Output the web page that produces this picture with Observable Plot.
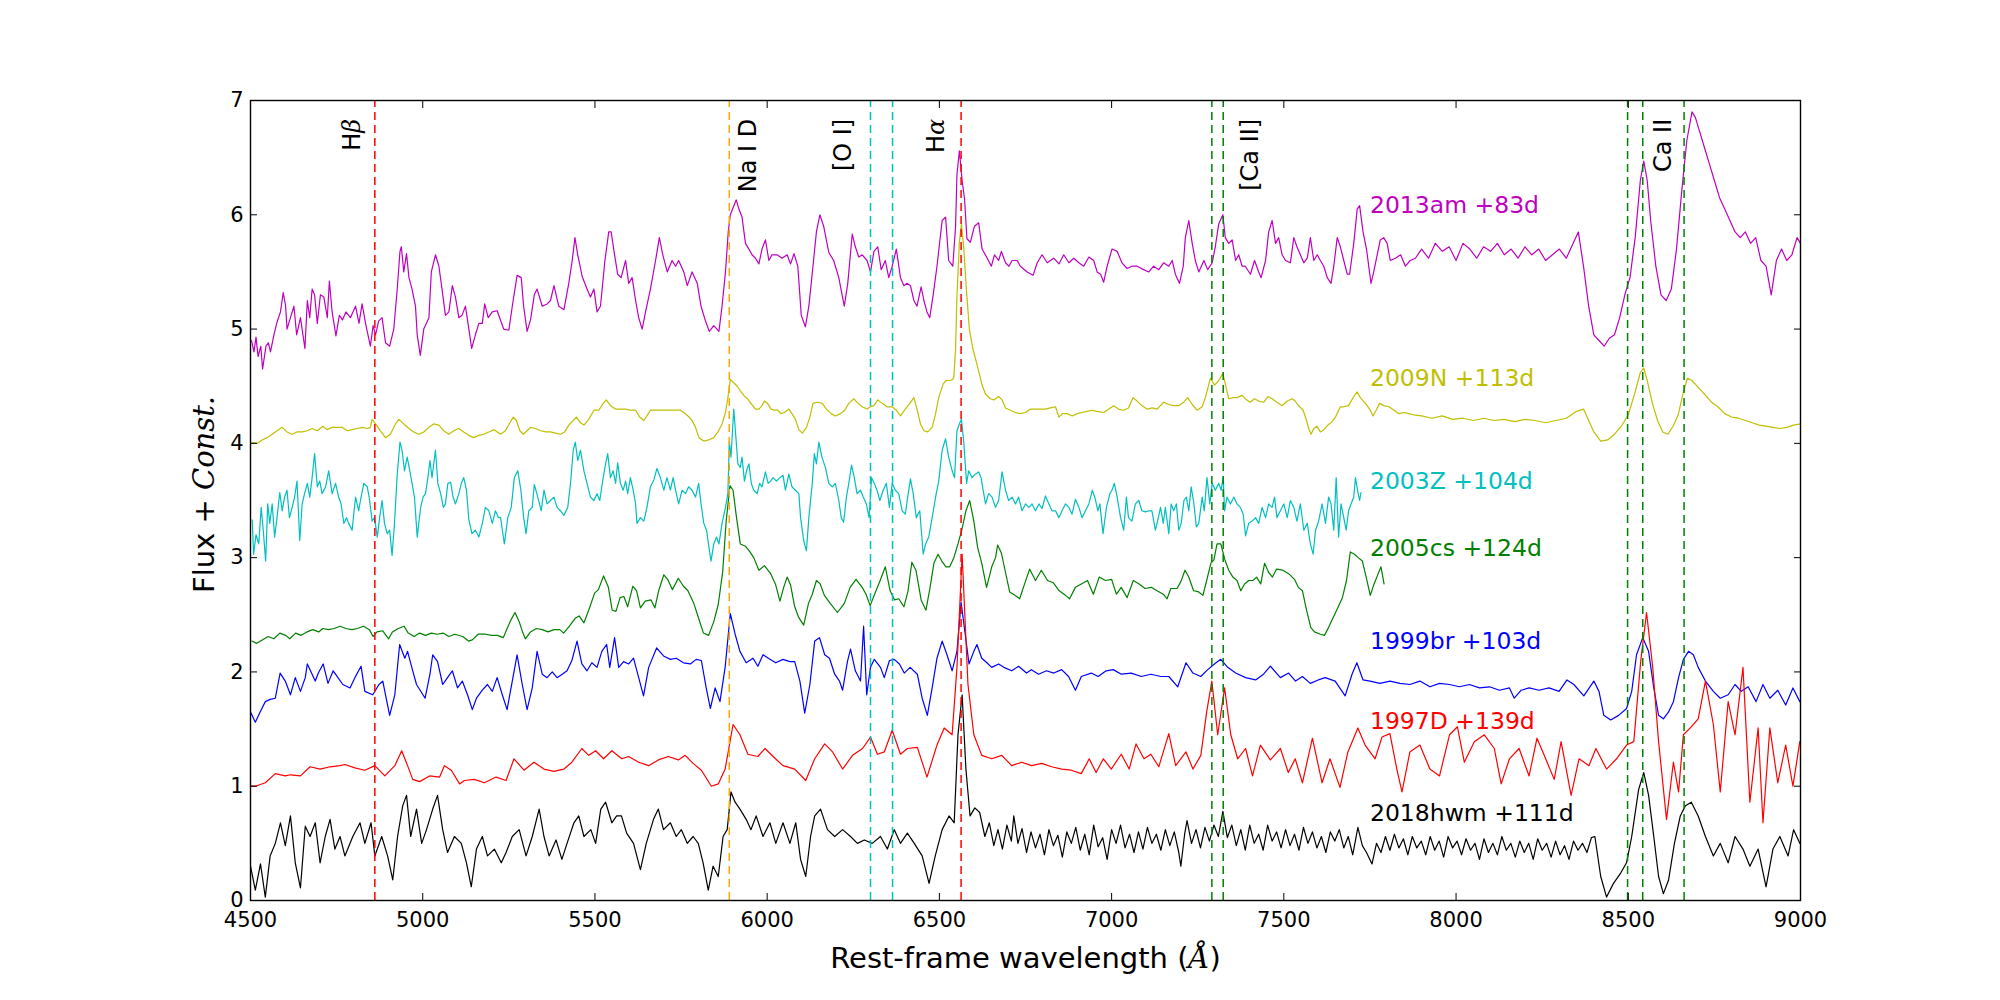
<!DOCTYPE html>
<html><head><meta charset="utf-8">
<script src="https://cdn.jsdelivr.net/npm/d3@7"></script>
<script src="https://cdn.jsdelivr.net/npm/@observablehq/plot@0.6"></script>
<style>body{margin:0;background:#fff;}</style>
</head><body><div id="chart"></div>
<script>
const xTicks = [4500,5000,5500,6000,6500,7000,7500,8000,8500,9000];
const yTicks = [0,1,2,3,4,5,6,7];

const sn2013am = [[4503,4.90],[4510,4.80],[4516,4.93],[4522,4.76],[4530,4.85],[4535,4.65],[4545,4.85],[4552,4.88],[4558,4.80],[4568,4.95],[4577,5.06],[4587,5.15],[4595,5.32],[4602,5.20],[4606,5.00],[4616,5.10],[4626,5.20],[4634,4.95],[4645,5.10],[4658,4.83],[4665,5.25],[4672,5.10],[4679,5.35],[4686,5.30],[4694,5.05],[4703,5.30],[4713,5.28],[4723,5.10],[4729,5.42],[4737,5.15],[4748,4.94],[4758,5.12],[4767,5.08],[4777,5.15],[4790,5.10],[4805,5.20],[4815,5.05],[4824,5.22],[4834,5.05],[4848,4.85],[4856,5.03],[4863,4.95],[4872,5.07],[4882,5.10],[4892,4.88],[4904,4.85],[4916,5.00],[4926,5.35],[4934,5.68],[4938,5.72],[4945,5.50],[4953,5.66],[4960,5.45],[4969,5.35],[4979,5.20],[4984,4.95],[4993,4.77],[5003,5.00],[5018,5.10],[5025,5.50],[5037,5.65],[5047,5.55],[5056,5.35],[5066,5.12],[5076,5.15],[5086,5.38],[5095,5.28],[5105,5.10],[5114,5.12],[5124,5.20],[5134,5.00],[5142,4.83],[5153,4.95],[5163,5.05],[5173,5.05],[5180,5.22],[5190,5.10],[5202,5.15],[5216,5.16],[5235,5.00],[5250,4.99],[5260,5.20],[5274,5.47],[5286,5.45],[5293,5.20],[5303,4.98],[5313,5.08],[5324,5.30],[5332,5.35],[5347,5.20],[5361,5.22],[5371,5.25],[5381,5.38],[5395,5.20],[5410,5.17],[5424,5.40],[5434,5.60],[5442,5.80],[5450,5.65],[5463,5.46],[5477,5.35],[5487,5.28],[5497,5.35],[5506,5.15],[5516,5.20],[5529,5.60],[5540,5.85],[5547,5.85],[5557,5.65],[5566,5.48],[5576,5.45],[5589,5.60],[5598,5.40],[5608,5.45],[5618,5.25],[5627,5.10],[5637,5.00],[5647,5.15],[5661,5.35],[5676,5.60],[5687,5.80],[5697,5.65],[5710,5.50],[5724,5.60],[5734,5.55],[5743,5.60],[5758,5.50],[5768,5.38],[5782,5.50],[5797,5.40],[5808,5.20],[5821,5.07],[5832,4.98],[5845,5.03],[5860,4.98],[5869,5.20],[5879,5.50],[5887,5.85],[5893,6.00],[5910,6.13],[5918,6.05],[5927,5.98],[5937,5.75],[5947,5.70],[5956,5.65],[5966,5.62],[5976,5.57],[5985,5.70],[5995,5.78],[6005,5.60],[6014,5.65],[6029,5.65],[6043,5.62],[6058,5.65],[6068,5.57],[6078,5.66],[6089,5.55],[6099,5.12],[6111,5.02],[6121,5.20],[6133,5.55],[6143,5.85],[6153,6.00],[6164,5.90],[6179,5.67],[6193,5.60],[6208,5.45],[6218,5.29],[6224,5.20],[6234,5.40],[6247,5.83],[6256,5.72],[6266,5.63],[6276,5.65],[6290,5.60],[6300,5.50],[6310,5.68],[6321,5.72],[6331,5.52],[6343,5.60],[6353,5.45],[6363,5.55],[6375,5.70],[6387,5.45],[6397,5.38],[6406,5.40],[6416,5.38],[6426,5.25],[6435,5.20],[6447,5.37],[6455,5.25],[6464,5.15],[6472,5.10],[6482,5.30],[6493,5.55],[6508,5.95],[6518,5.98],[6527,5.60],[6539,5.55],[6547,5.90],[6551,6.35],[6558,6.56],[6566,6.30],[6573,6.14],[6580,5.79],[6590,5.76],[6602,5.90],[6614,5.93],[6624,5.70],[6639,5.62],[6651,5.55],[6660,5.65],[6672,5.60],[6680,5.68],[6692,5.58],[6702,5.55],[6711,5.60],[6726,5.60],[6735,5.55],[6755,5.50],[6772,5.47],[6784,5.58],[6798,5.65],[6813,5.58],[6832,5.62],[6847,5.57],[6861,5.65],[6876,5.58],[6890,5.62],[6905,5.58],[6919,5.55],[6934,5.63],[6948,5.60],[6958,5.50],[6968,5.48],[6977,5.41],[6987,5.55],[7001,5.70],[7016,5.68],[7030,5.58],[7045,5.53],[7059,5.55],[7074,5.55],[7093,5.52],[7108,5.50],[7122,5.55],[7137,5.52],[7151,5.58],[7166,5.55],[7176,5.60],[7185,5.48],[7197,5.40],[7208,5.55],[7214,5.80],[7224,5.95],[7234,5.75],[7243,5.60],[7253,5.50],[7268,5.60],[7279,5.52],[7292,5.58],[7301,5.72],[7311,5.92],[7323,6.00],[7330,5.80],[7340,5.75],[7350,5.78],[7360,5.60],[7369,5.65],[7379,5.55],[7388,5.55],[7403,5.48],[7415,5.60],[7427,5.50],[7434,5.45],[7447,5.60],[7456,5.85],[7466,5.95],[7476,5.75],[7485,5.80],[7495,5.65],[7505,5.60],[7519,5.58],[7529,5.80],[7538,5.72],[7548,5.65],[7558,5.58],[7568,5.62],[7577,5.80],[7587,5.60],[7597,5.65],[7606,5.60],[7616,5.55],[7626,5.45],[7637,5.40],[7645,5.55],[7655,5.80],[7664,5.72],[7674,5.60],[7684,5.48],[7691,5.48],[7703,5.75],[7713,6.05],[7720,6.08],[7730,5.85],[7740,5.70],[7753,5.40],[7761,5.50],[7771,5.65],[7780,5.78],[7790,5.80],[7800,5.75],[7809,5.60],[7824,5.62],[7839,5.65],[7853,5.55],[7867,5.60],[7882,5.62],[7900,5.70],[7920,5.62],[7940,5.75],[7960,5.68],[7980,5.72],[8000,5.60],[8020,5.75],[8040,5.70],[8060,5.62],[8080,5.72],[8100,5.68],[8120,5.75],[8140,5.65],[8160,5.70],[8180,5.62],[8200,5.72],[8220,5.65],[8240,5.70],[8260,5.60],[8280,5.65],[8300,5.70],[8320,5.62],[8340,5.75],[8355,5.85],[8370,5.55],[8385,5.20],[8400,4.95],[8415,4.90],[8430,4.85],[8445,4.92],[8460,4.95],[8475,5.10],[8490,5.30],[8505,5.45],[8520,5.80],[8535,6.30],[8545,6.47],[8555,6.30],[8565,5.95],[8580,5.55],[8595,5.30],[8610,5.25],[8625,5.35],[8640,5.70],[8655,6.20],[8670,6.65],[8685,6.90],[8695,6.85],[8705,6.75],[8720,6.60],[8735,6.45],[8750,6.30],[8765,6.15],[8780,6.05],[8795,5.95],[8810,5.85],[8825,5.80],[8840,5.85],[8855,5.75],[8870,5.80],[8885,5.60],[8900,5.55],[8915,5.30],[8930,5.60],[8945,5.70],[8960,5.60],[8975,5.65],[8990,5.80],[9000,5.75]];

const sn2009N = [[4505,4.01],[4520,4.00],[4534,4.03],[4548,4.05],[4563,4.08],[4577,4.11],[4592,4.14],[4606,4.10],[4621,4.08],[4635,4.10],[4650,4.10],[4665,4.11],[4679,4.13],[4694,4.11],[4710,4.15],[4722,4.12],[4737,4.14],[4752,4.14],[4766,4.14],[4781,4.11],[4795,4.12],[4810,4.13],[4824,4.14],[4839,4.13],[4848,4.14],[4853,4.21],[4863,4.17],[4877,4.11],[4892,4.05],[4906,4.08],[4921,4.17],[4931,4.21],[4945,4.17],[4960,4.13],[4974,4.10],[4989,4.08],[5003,4.10],[5018,4.14],[5032,4.17],[5047,4.16],[5061,4.11],[5076,4.08],[5090,4.11],[5105,4.13],[5119,4.10],[5134,4.07],[5148,4.05],[5163,4.07],[5177,4.08],[5192,4.10],[5207,4.12],[5226,4.08],[5240,4.11],[5253,4.18],[5263,4.23],[5272,4.20],[5282,4.11],[5292,4.08],[5303,4.11],[5313,4.14],[5328,4.13],[5342,4.11],[5357,4.10],[5371,4.10],[5385,4.09],[5400,4.08],[5412,4.10],[5424,4.16],[5437,4.20],[5446,4.23],[5458,4.18],[5468,4.16],[5482,4.21],[5497,4.29],[5511,4.29],[5524,4.35],[5533,4.38],[5545,4.33],[5560,4.30],[5574,4.30],[5589,4.30],[5603,4.29],[5618,4.29],[5630,4.23],[5642,4.20],[5651,4.24],[5661,4.29],[5676,4.29],[5690,4.29],[5705,4.29],[5719,4.29],[5734,4.29],[5748,4.29],[5758,4.27],[5770,4.24],[5782,4.20],[5792,4.14],[5802,4.05],[5816,4.02],[5830,4.03],[5845,4.05],[5857,4.10],[5869,4.17],[5879,4.27],[5886,4.40],[5893,4.56],[5903,4.53],[5913,4.50],[5922,4.46],[5932,4.42],[5943,4.39],[5953,4.35],[5966,4.30],[5976,4.30],[5985,4.33],[5992,4.37],[6001,4.35],[6011,4.30],[6021,4.29],[6031,4.29],[6040,4.26],[6050,4.27],[6063,4.30],[6072,4.26],[6082,4.21],[6092,4.12],[6102,4.09],[6114,4.14],[6124,4.23],[6133,4.35],[6145,4.36],[6160,4.35],[6172,4.30],[6186,4.26],[6198,4.24],[6213,4.26],[6225,4.29],[6237,4.35],[6252,4.39],[6264,4.35],[6276,4.32],[6290,4.30],[6300,4.32],[6310,4.33],[6321,4.38],[6334,4.35],[6348,4.32],[6363,4.32],[6375,4.29],[6387,4.24],[6401,4.30],[6414,4.35],[6426,4.40],[6435,4.30],[6445,4.17],[6455,4.11],[6466,4.10],[6479,4.14],[6489,4.26],[6498,4.40],[6511,4.52],[6520,4.55],[6532,4.55],[6539,4.56],[6542,4.58],[6547,4.83],[6551,5.29],[6558,5.76],[6564,5.92],[6571,5.70],[6579,5.32],[6587,5.00],[6597,4.83],[6610,4.68],[6624,4.51],[6634,4.43],[6648,4.39],[6658,4.38],[6672,4.41],[6682,4.38],[6692,4.31],[6706,4.29],[6721,4.27],[6735,4.26],[6750,4.27],[6764,4.30],[6779,4.30],[6793,4.30],[6808,4.30],[6822,4.31],[6837,4.32],[6847,4.23],[6857,4.26],[6871,4.26],[6886,4.24],[6900,4.26],[6914,4.27],[6929,4.28],[6943,4.29],[6958,4.28],[6977,4.27],[6992,4.30],[7006,4.33],[7020,4.30],[7035,4.29],[7049,4.31],[7062,4.40],[7074,4.37],[7088,4.33],[7103,4.30],[7118,4.31],[7132,4.30],[7151,4.36],[7166,4.34],[7180,4.33],[7195,4.33],[7209,4.36],[7221,4.40],[7234,4.34],[7248,4.29],[7263,4.32],[7272,4.40],[7287,4.57],[7299,4.51],[7311,4.55],[7323,4.61],[7330,4.52],[7340,4.39],[7352,4.40],[7364,4.40],[7379,4.42],[7388,4.39],[7402,4.36],[7415,4.39],[7427,4.37],[7442,4.36],[7454,4.41],[7466,4.39],[7480,4.36],[7495,4.33],[7510,4.37],[7524,4.39],[7533,4.37],[7543,4.33],[7556,4.29],[7566,4.20],[7572,4.13],[7579,4.08],[7587,4.13],[7596,4.15],[7606,4.10],[7616,4.12],[7628,4.16],[7640,4.19],[7650,4.23],[7664,4.32],[7674,4.32],[7688,4.33],[7703,4.41],[7713,4.45],[7722,4.40],[7737,4.35],[7751,4.29],[7759,4.24],[7768,4.29],[7778,4.35],[7790,4.33],[7805,4.32],[7820,4.29],[7834,4.26],[7849,4.27],[7863,4.26],[7877,4.25],[7900,4.24],[7930,4.22],[7960,4.24],[7990,4.21],[8020,4.22],[8050,4.20],[8080,4.22],[8110,4.20],[8140,4.21],[8170,4.19],[8200,4.21],[8230,4.20],[8260,4.18],[8290,4.20],[8320,4.22],[8350,4.28],[8370,4.30],[8385,4.20],[8400,4.10],[8420,4.02],[8440,4.03],[8460,4.08],[8480,4.15],[8500,4.25],[8520,4.45],[8535,4.62],[8545,4.66],[8555,4.55],[8570,4.35],[8585,4.20],[8600,4.10],[8615,4.08],[8630,4.15],[8645,4.25],[8660,4.45],[8672,4.57],[8685,4.55],[8700,4.50],[8715,4.45],[8730,4.40],[8745,4.35],[8760,4.32],[8780,4.26],[8800,4.23],[8820,4.22],[8840,4.20],[8860,4.18],[8880,4.16],[8900,4.15],[8920,4.14],[8940,4.13],[8960,4.14],[8980,4.16],[9000,4.17]];

const sn2003Z = [[4505,3.33],[4509,3.03],[4516,3.20],[4524,3.12],[4531,3.44],[4537,3.24],[4544,2.97],[4550,3.47],[4556,3.30],[4563,3.47],[4570,3.18],[4577,3.35],[4585,3.57],[4592,3.41],[4599,3.53],[4606,3.59],[4613,3.35],[4621,3.44],[4628,3.53],[4635,3.67],[4643,3.15],[4650,3.47],[4657,3.56],[4665,3.65],[4672,3.53],[4679,3.70],[4686,3.91],[4694,3.62],[4701,3.67],[4708,3.56],[4718,3.62],[4727,3.76],[4737,3.56],[4747,3.65],[4756,3.53],[4763,3.47],[4771,3.30],[4779,3.35],[4785,3.30],[4795,3.24],[4805,3.53],[4814,3.41],[4821,3.53],[4829,3.65],[4839,3.62],[4846,3.50],[4853,3.32],[4860,3.35],[4868,3.18],[4875,3.35],[4882,3.50],[4889,3.30],[4897,3.21],[4904,3.24],[4911,3.02],[4918,3.30],[4926,3.73],[4934,4.01],[4940,3.94],[4947,3.76],[4955,3.88],[4963,3.75],[4969,3.65],[4976,3.53],[4984,3.18],[4994,3.44],[5001,3.53],[5008,3.56],[5015,3.70],[5021,3.85],[5027,3.70],[5037,3.94],[5044,3.65],[5052,3.56],[5060,3.44],[5066,3.47],[5073,3.65],[5081,3.66],[5088,3.53],[5095,3.47],[5105,3.56],[5112,3.65],[5119,3.70],[5127,3.59],[5134,3.33],[5143,3.21],[5153,3.24],[5163,3.18],[5173,3.30],[5182,3.44],[5192,3.41],[5202,3.30],[5211,3.41],[5220,3.35],[5226,3.35],[5237,3.12],[5247,3.35],[5257,3.44],[5266,3.70],[5276,3.76],[5285,3.59],[5293,3.35],[5300,3.21],[5308,3.41],[5318,3.44],[5324,3.64],[5334,3.53],[5344,3.41],[5352,3.59],[5361,3.47],[5371,3.50],[5381,3.53],[5390,3.44],[5400,3.41],[5410,3.37],[5421,3.44],[5429,3.65],[5437,3.94],[5443,4.01],[5450,3.85],[5458,3.94],[5468,3.76],[5477,3.65],[5487,3.53],[5497,3.50],[5506,3.56],[5514,3.50],[5524,3.70],[5531,3.82],[5537,3.91],[5545,3.70],[5553,3.76],[5560,3.65],[5566,3.83],[5574,3.65],[5582,3.59],[5589,3.67],[5595,3.56],[5603,3.70],[5611,3.59],[5618,3.47],[5622,3.30],[5632,3.35],[5642,3.32],[5651,3.44],[5661,3.62],[5671,3.68],[5680,3.78],[5690,3.70],[5700,3.59],[5709,3.70],[5719,3.59],[5727,3.70],[5734,3.59],[5743,3.47],[5753,3.59],[5763,3.56],[5772,3.62],[5782,3.59],[5792,3.53],[5801,3.65],[5808,3.47],[5816,3.30],[5824,3.24],[5831,3.09],[5837,2.97],[5845,3.12],[5853,3.18],[5860,3.12],[5869,3.30],[5879,3.44],[5886,3.56],[5890,4.02],[5895,3.88],[5903,4.30],[5910,4.02],[5915,3.82],[5922,3.79],[5927,3.88],[5934,3.67],[5940,3.76],[5947,3.82],[5954,3.65],[5961,3.59],[5971,3.56],[5978,3.65],[5985,3.62],[5995,3.75],[6003,3.65],[6010,3.67],[6017,3.70],[6027,3.67],[6037,3.70],[6046,3.72],[6053,3.59],[6063,3.73],[6072,3.62],[6082,3.59],[6092,3.56],[6097,3.35],[6106,3.15],[6114,3.06],[6121,3.35],[6131,3.65],[6137,3.91],[6143,3.82],[6150,4.01],[6159,3.88],[6169,3.79],[6179,3.65],[6189,3.62],[6198,3.65],[6208,3.50],[6215,3.35],[6222,3.31],[6230,3.53],[6237,3.65],[6245,3.81],[6253,3.70],[6261,3.56],[6271,3.59],[6279,3.53],[6288,3.47],[6296,3.35],[6303,3.70],[6311,3.65],[6319,3.59],[6327,3.50],[6337,3.59],[6346,3.65],[6355,3.44],[6363,3.65],[6372,3.59],[6382,3.56],[6392,3.41],[6401,3.38],[6408,3.53],[6416,3.69],[6424,3.56],[6433,3.35],[6443,3.41],[6453,3.03],[6460,3.12],[6469,3.18],[6479,3.35],[6489,3.53],[6498,3.67],[6508,3.94],[6518,4.04],[6527,3.88],[6537,3.76],[6544,3.70],[6551,4.11],[6558,4.17],[6564,4.21],[6571,4.00],[6579,3.65],[6585,3.76],[6595,3.70],[6604,3.73],[6614,3.75],[6621,3.70],[6627,3.59],[6634,3.47],[6643,3.56],[6653,3.53],[6663,3.44],[6672,3.50],[6682,3.75],[6692,3.59],[6701,3.50],[6711,3.53],[6721,3.47],[6730,3.53],[6740,3.41],[6750,3.47],[6760,3.44],[6769,3.47],[6779,3.41],[6789,3.47],[6798,3.43],[6808,3.54],[6818,3.47],[6827,3.41],[6837,3.41],[6847,3.35],[6856,3.41],[6866,3.47],[6876,3.44],[6885,3.38],[6895,3.51],[6905,3.44],[6914,3.35],[6924,3.41],[6934,3.47],[6944,3.59],[6952,3.52],[6960,3.41],[6966,3.47],[6975,3.21],[6985,3.44],[6995,3.56],[7001,3.59],[7008,3.65],[7016,3.53],[7026,3.35],[7035,3.24],[7043,3.53],[7049,3.35],[7059,3.32],[7069,3.47],[7079,3.50],[7088,3.41],[7098,3.40],[7108,3.41],[7117,3.41],[7127,3.24],[7132,3.30],[7142,3.44],[7150,3.30],[7156,3.44],[7166,3.21],[7173,3.47],[7180,3.41],[7188,3.47],[7195,3.24],[7202,3.30],[7210,3.50],[7217,3.53],[7224,3.41],[7231,3.62],[7239,3.47],[7246,3.27],[7253,3.30],[7263,3.53],[7269,3.41],[7277,3.70],[7285,3.47],[7292,3.65],[7301,3.59],[7311,3.65],[7318,3.59],[7324,3.70],[7328,3.41],[7335,3.53],[7345,3.47],[7355,3.53],[7364,3.47],[7374,3.44],[7382,3.38],[7389,3.19],[7398,3.30],[7408,3.32],[7418,3.35],[7427,3.30],[7437,3.44],[7447,3.35],[7456,3.47],[7466,3.44],[7473,3.53],[7480,3.35],[7490,3.41],[7500,3.47],[7510,3.35],[7519,3.50],[7529,3.44],[7538,3.32],[7548,3.47],[7558,3.24],[7568,3.30],[7577,3.12],[7585,3.03],[7592,3.24],[7601,3.32],[7611,3.47],[7621,3.30],[7630,3.53],[7637,3.47],[7645,3.24],[7652,3.70],[7659,3.18],[7666,3.47],[7674,3.35],[7681,3.24],[7688,3.41],[7695,3.47],[7703,3.53],[7708,3.70],[7714,3.59],[7720,3.50],[7724,3.57]];

const sn2005cs = [[4504,2.27],[4518,2.25],[4534,2.28],[4551,2.31],[4568,2.29],[4585,2.34],[4602,2.32],[4614,2.29],[4631,2.34],[4647,2.32],[4664,2.35],[4681,2.37],[4698,2.35],[4710,2.38],[4726,2.37],[4743,2.38],[4760,2.40],[4777,2.38],[4794,2.37],[4811,2.38],[4828,2.40],[4845,2.37],[4856,2.31],[4867,2.35],[4884,2.36],[4901,2.29],[4912,2.35],[4929,2.38],[4946,2.40],[4958,2.34],[4975,2.31],[4991,2.34],[5008,2.32],[5025,2.34],[5042,2.33],[5059,2.34],[5076,2.31],[5093,2.33],[5116,2.31],[5133,2.27],[5144,2.28],[5161,2.33],[5183,2.33],[5200,2.32],[5217,2.32],[5234,2.30],[5245,2.38],[5257,2.46],[5268,2.52],[5280,2.44],[5291,2.34],[5298,2.29],[5313,2.35],[5330,2.38],[5347,2.37],[5364,2.35],[5381,2.37],[5398,2.37],[5409,2.34],[5426,2.40],[5443,2.47],[5454,2.49],[5468,2.43],[5482,2.54],[5499,2.69],[5510,2.72],[5525,2.84],[5539,2.74],[5550,2.54],[5561,2.53],[5573,2.65],[5584,2.66],[5595,2.57],[5610,2.75],[5621,2.71],[5632,2.56],[5646,2.62],[5663,2.63],[5674,2.56],[5685,2.71],[5700,2.85],[5711,2.81],[5725,2.72],[5742,2.82],[5757,2.75],[5770,2.71],[5787,2.60],[5801,2.47],[5815,2.34],[5830,2.32],[5845,2.44],[5858,2.59],[5871,2.88],[5881,3.32],[5892,3.63],[5901,3.59],[5911,3.35],[5922,3.12],[5937,3.10],[5950,3.05],[5961,3.00],[5976,2.89],[5992,2.93],[6010,2.86],[6024,2.77],[6037,2.62],[6048,2.74],[6058,2.83],[6068,2.76],[6080,2.57],[6091,2.48],[6106,2.41],[6120,2.60],[6131,2.68],[6143,2.80],[6154,2.77],[6166,2.67],[6183,2.60],[6204,2.52],[6224,2.60],[6241,2.74],[6258,2.81],[6276,2.74],[6287,2.68],[6299,2.58],[6316,2.71],[6328,2.80],[6343,2.92],[6357,2.71],[6370,2.63],[6382,2.64],[6397,2.57],[6409,2.71],[6420,2.96],[6432,2.89],[6447,2.63],[6461,2.54],[6473,2.74],[6484,2.95],[6496,3.03],[6507,2.97],[6519,2.92],[6530,2.92],[6542,3.00],[6554,3.12],[6565,3.24],[6577,3.41],[6588,3.50],[6600,3.32],[6611,3.09],[6623,2.95],[6637,2.74],[6652,2.92],[6663,3.00],[6669,3.11],[6680,3.04],[6692,2.87],[6704,2.70],[6715,2.68],[6733,2.64],[6744,2.74],[6762,2.90],[6779,2.80],[6796,2.89],[6814,2.80],[6831,2.78],[6848,2.71],[6866,2.67],[6878,2.64],[6895,2.74],[6912,2.77],[6930,2.80],[6947,2.68],[6964,2.83],[6982,2.80],[7000,2.81],[7014,2.68],[7028,2.74],[7045,2.65],[7063,2.80],[7080,2.77],[7097,2.73],[7115,2.74],[7132,2.71],[7150,2.68],[7161,2.64],[7172,2.73],[7190,2.73],[7201,2.79],[7213,2.89],[7224,2.83],[7238,2.71],[7253,2.70],[7265,2.67],[7276,2.80],[7288,2.95],[7297,2.98],[7306,3.12],[7317,3.12],[7329,2.98],[7340,2.89],[7352,2.83],[7364,2.80],[7375,2.71],[7386,2.77],[7398,2.80],[7410,2.80],[7421,2.83],[7433,2.77],[7444,2.95],[7456,2.87],[7467,2.83],[7479,2.90],[7497,2.89],[7514,2.86],[7531,2.81],[7542,2.74],[7554,2.71],[7566,2.54],[7578,2.39],[7589,2.35],[7606,2.33],[7618,2.32],[7630,2.39],[7641,2.46],[7655,2.55],[7670,2.65],[7682,2.80],[7693,3.05],[7705,3.03],[7716,3.00],[7728,2.97],[7739,2.83],[7751,2.67],[7762,2.77],[7774,2.86],[7782,2.92],[7791,2.77]];

const sn1999br = [[4500,1.65],[4514,1.56],[4528,1.65],[4543,1.74],[4557,1.76],[4572,1.77],[4586,1.99],[4601,1.92],[4616,1.80],[4630,1.95],[4645,1.83],[4659,1.95],[4665,2.07],[4688,1.92],[4697,1.99],[4711,2.07],[4725,1.90],[4740,2.01],[4754,1.95],[4768,1.89],[4789,1.86],[4803,1.95],[4821,2.05],[4832,1.83],[4855,1.80],[4873,1.89],[4884,1.92],[4904,1.62],[4919,1.80],[4933,2.24],[4948,2.12],[4956,2.18],[4971,2.01],[4982,1.89],[5007,1.77],[5021,1.98],[5029,2.15],[5043,2.09],[5058,1.89],[5072,1.95],[5086,2.01],[5101,1.86],[5115,1.92],[5130,1.80],[5144,1.67],[5156,1.77],[5173,1.84],[5188,1.89],[5202,1.83],[5216,1.95],[5231,1.80],[5245,1.67],[5260,1.92],[5274,2.15],[5289,1.89],[5303,1.67],[5318,1.86],[5332,2.18],[5347,1.98],[5361,1.95],[5376,2.00],[5390,1.95],[5405,1.98],[5419,2.01],[5433,2.10],[5448,2.27],[5462,2.07],[5477,2.01],[5491,2.08],[5506,2.04],[5520,2.18],[5534,2.24],[5543,2.04],[5557,2.30],[5569,2.04],[5583,2.09],[5598,2.07],[5612,2.12],[5627,1.95],[5641,1.79],[5656,2.04],[5679,2.21],[5699,2.14],[5719,2.11],[5736,2.12],[5757,2.08],[5777,2.07],[5794,2.11],[5809,2.10],[5823,1.86],[5835,1.68],[5849,1.86],[5863,1.74],[5878,2.04],[5893,2.51],[5907,2.33],[5921,2.18],[5939,2.08],[5959,2.12],[5973,2.05],[5988,2.15],[6008,2.11],[6025,2.08],[6046,2.11],[6066,2.09],[6080,2.09],[6095,1.92],[6109,1.64],[6124,1.89],[6138,2.27],[6152,2.30],[6167,2.15],[6181,2.12],[6196,1.98],[6210,1.92],[6219,1.84],[6233,2.09],[6242,2.20],[6256,2.01],[6271,1.92],[6280,2.40],[6289,1.80],[6300,2.04],[6311,2.11],[6329,2.04],[6340,1.95],[6355,2.10],[6369,2.11],[6384,2.07],[6398,1.99],[6415,2.04],[6436,1.98],[6450,1.77],[6465,1.62],[6479,1.86],[6493,2.12],[6508,2.27],[6522,2.15],[6537,2.01],[6551,2.18],[6563,2.61],[6575,2.33],[6586,2.07],[6600,2.18],[6609,2.24],[6623,2.12],[6638,2.08],[6652,2.04],[6672,2.07],[6687,2.04],[6710,2.01],[6730,2.05],[6753,1.99],[6767,2.02],[6788,1.98],[6811,2.01],[6832,1.99],[6855,2.02],[6875,1.96],[6895,1.84],[6912,1.96],[6941,1.99],[6961,1.96],[6984,2.01],[7005,2.02],[7028,1.98],[7057,1.99],[7086,1.96],[7114,1.98],[7143,1.96],[7166,1.96],[7192,1.87],[7216,2.08],[7236,1.99],[7259,1.96],[7279,2.02],[7303,2.08],[7317,2.11],[7337,2.04],[7360,1.99],[7389,1.95],[7418,1.93],[7441,1.98],[7461,2.05],[7490,1.95],[7514,1.99],[7534,1.92],[7554,1.96],[7577,1.90],[7600,1.93],[7620,1.95],[7649,1.92],[7678,1.79],[7698,1.98],[7712,2.08],[7730,1.93],[7750,1.92],[7779,1.90],[7808,1.92],[7837,1.90],[7866,1.89],[7895,1.92],[7924,1.87],[7952,1.90],[7981,1.89],[8010,1.87],[8039,1.89],[8068,1.86],[8097,1.87],[8126,1.84],[8155,1.86],[8169,1.77],[8189,1.84],[8212,1.86],[8241,1.84],[8270,1.86],[8299,1.83],[8322,1.93],[8342,1.89],[8371,1.79],[8400,1.92],[8415,1.83],[8429,1.62],[8449,1.58],[8472,1.62],[8495,1.68],[8510,1.83],[8524,2.15],[8542,2.30],[8559,2.18],[8574,1.86],[8588,1.62],[8602,1.59],[8617,1.65],[8631,1.74],[8646,1.95],[8660,2.11],[8675,2.18],[8689,2.15],[8703,2.04],[8724,1.92],[8747,1.83],[8767,1.77],[8790,1.80],[8810,1.89],[8828,1.83],[8848,1.87],[8871,1.74],[8891,1.89],[8911,1.77],[8934,1.84],[8957,1.71],[8978,1.86],[8998,1.74]];

const sn1997D = [[4500,1.00],[4514,1.00],[4543,1.03],[4572,1.11],[4601,1.09],[4616,1.10],[4645,1.09],[4673,1.17],[4702,1.15],[4731,1.17],[4760,1.18],[4774,1.19],[4803,1.16],[4832,1.14],[4861,1.18],[4890,1.09],[4919,1.18],[4939,1.31],[4956,1.18],[4971,1.06],[4991,1.04],[5020,1.09],[5049,1.08],[5063,1.18],[5083,1.14],[5107,1.02],[5121,1.05],[5150,1.06],[5179,1.03],[5213,1.08],[5242,1.05],[5265,1.24],[5294,1.14],[5323,1.21],[5352,1.15],[5381,1.13],[5410,1.15],[5433,1.21],[5462,1.33],[5482,1.27],[5502,1.31],[5525,1.24],[5549,1.31],[5578,1.24],[5598,1.26],[5627,1.21],[5656,1.18],[5684,1.23],[5713,1.26],[5742,1.23],[5762,1.27],[5785,1.20],[5809,1.14],[5838,1.00],[5858,1.02],[5878,1.15],[5901,1.54],[5921,1.45],[5944,1.28],[5973,1.26],[5994,1.33],[6017,1.26],[6046,1.18],[6080,1.15],[6112,1.05],[6138,1.24],[6167,1.37],[6190,1.30],[6219,1.15],[6248,1.27],[6277,1.33],[6300,1.43],[6320,1.28],[6340,1.30],[6363,1.49],[6387,1.28],[6407,1.33],[6436,1.34],[6464,1.08],[6493,1.36],[6514,1.51],[6537,1.45],[6551,2.04],[6566,3.03],[6583,1.89],[6600,1.45],[6623,1.27],[6652,1.24],[6681,1.27],[6710,1.18],[6739,1.21],[6768,1.18],[6797,1.20],[6826,1.17],[6855,1.15],[6883,1.14],[6912,1.11],[6935,1.24],[6955,1.12],[6976,1.24],[6999,1.15],[7028,1.28],[7051,1.15],[7071,1.37],[7094,1.24],[7114,1.28],[7137,1.17],[7166,1.46],[7186,1.18],[7216,1.30],[7236,1.15],[7259,1.27],[7276,1.65],[7291,1.92],[7308,1.45],[7328,1.86],[7346,1.45],[7366,1.24],[7389,1.33],[7409,1.09],[7432,1.36],[7461,1.23],[7490,1.33],[7513,1.12],[7533,1.24],[7554,1.03],[7583,1.42],[7611,1.03],[7634,1.24],[7663,0.99],[7686,1.30],[7715,1.51],[7736,1.36],[7765,1.24],[7785,1.43],[7808,1.46],[7828,1.15],[7843,0.95],[7866,1.30],[7895,1.36],[7924,1.15],[7952,1.09],[7981,1.45],[8004,1.52],[8024,1.21],[8053,1.39],[8082,1.45],[8111,1.33],[8131,1.02],[8155,1.24],[8183,1.33],[8212,1.09],[8235,1.42],[8256,1.27],[8285,1.06],[8305,1.39],[8334,0.92],[8357,1.24],[8386,1.18],[8406,1.33],[8437,1.15],[8466,1.24],[8495,1.36],[8516,1.39],[8536,2.09],[8553,2.52],[8571,2.04],[8588,1.39],[8611,0.71],[8631,1.21],[8646,0.95],[8660,1.45],[8680,1.51],[8703,1.59],[8724,1.92],[8747,1.54],[8767,0.95],[8790,1.74],[8810,1.45],[8833,2.04],[8853,0.86],[8877,1.51],[8891,0.68],[8911,1.51],[8934,1.03],[8957,1.36],[8978,1.00],[8998,1.39]];

const sn2018hwm = [[4500,0.30],[4514,0.09],[4529,0.32],[4543,0.03],[4557,0.39],[4572,0.50],[4587,0.68],[4601,0.48],[4616,0.74],[4630,0.33],[4645,0.11],[4659,0.65],[4673,0.56],[4688,0.68],[4702,0.33],[4717,0.56],[4731,0.71],[4745,0.45],[4760,0.56],[4774,0.39],[4797,0.56],[4818,0.68],[4832,0.50],[4850,0.68],[4861,0.39],[4881,0.56],[4898,0.39],[4913,0.18],[4927,0.56],[4942,0.83],[4953,0.92],[4965,0.56],[4982,0.80],[4997,0.50],[5011,0.62],[5029,0.80],[5043,0.92],[5058,0.62],[5072,0.42],[5092,0.56],[5112,0.50],[5127,0.33],[5141,0.12],[5156,0.45],[5173,0.56],[5188,0.39],[5208,0.45],[5228,0.33],[5242,0.42],[5260,0.56],[5280,0.62],[5300,0.39],[5318,0.56],[5338,0.80],[5352,0.56],[5367,0.39],[5387,0.53],[5404,0.36],[5419,0.50],[5439,0.68],[5453,0.74],[5468,0.56],[5488,0.62],[5502,0.50],[5517,0.80],[5531,0.86],[5549,0.68],[5563,0.74],[5577,0.74],[5592,0.59],[5612,0.50],[5632,0.27],[5649,0.50],[5670,0.71],[5684,0.80],[5699,0.62],[5719,0.68],[5736,0.56],[5751,0.62],[5768,0.50],[5785,0.56],[5800,0.50],[5814,0.33],[5829,0.09],[5843,0.30],[5858,0.21],[5872,0.56],[5884,0.62],[5895,0.95],[5907,0.86],[5921,0.80],[5939,0.71],[5953,0.62],[5968,0.74],[5988,0.56],[6008,0.68],[6025,0.50],[6046,0.68],[6066,0.50],[6083,0.68],[6097,0.36],[6112,0.21],[6126,0.56],[6138,0.74],[6155,0.80],[6175,0.62],[6196,0.56],[6219,0.62],[6242,0.56],[6262,0.50],[6282,0.53],[6305,0.50],[6329,0.56],[6349,0.45],[6369,0.62],[6387,0.50],[6407,0.59],[6427,0.50],[6450,0.39],[6470,0.15],[6488,0.39],[6508,0.62],[6528,0.74],[6543,0.68],[6554,1.45],[6566,1.80],[6577,1.15],[6589,0.74],[6603,0.81],[6617,0.77],[6632,0.56],[6645,0.68],[6658,0.48],[6670,0.62],[6683,0.45],[6696,0.66],[6709,0.52],[6716,0.74],[6728,0.50],[6740,0.63],[6753,0.42],[6766,0.60],[6779,0.46],[6792,0.58],[6805,0.40],[6818,0.62],[6831,0.48],[6844,0.57],[6857,0.38],[6870,0.60],[6883,0.50],[6896,0.64],[6909,0.44],[6922,0.58],[6935,0.40],[6948,0.66],[6961,0.47],[6974,0.55],[6987,0.36],[7000,0.62],[7013,0.50],[7026,0.66],[7039,0.46],[7052,0.58],[7065,0.42],[7078,0.60],[7091,0.45],[7104,0.64],[7117,0.50],[7130,0.58],[7143,0.44],[7156,0.62],[7169,0.48],[7182,0.60],[7195,0.42],[7201,0.30],[7212,0.58],[7219,0.70],[7232,0.50],[7245,0.62],[7258,0.46],[7271,0.64],[7284,0.52],[7297,0.66],[7310,0.56],[7323,0.78],[7336,0.55],[7349,0.66],[7362,0.48],[7375,0.62],[7388,0.44],[7401,0.66],[7414,0.50],[7427,0.58],[7440,0.44],[7453,0.66],[7466,0.52],[7479,0.60],[7492,0.46],[7505,0.62],[7518,0.48],[7531,0.58],[7544,0.44],[7557,0.64],[7570,0.50],[7583,0.60],[7596,0.46],[7609,0.56],[7622,0.42],[7635,0.60],[7648,0.52],[7661,0.62],[7674,0.46],[7687,0.56],[7700,0.40],[7715,0.64],[7728,0.48],[7740,0.42],[7756,0.32],[7769,0.50],[7782,0.42],[7795,0.56],[7808,0.44],[7821,0.58],[7834,0.46],[7847,0.54],[7860,0.40],[7873,0.56],[7886,0.46],[7899,0.52],[7912,0.40],[7925,0.56],[7938,0.44],[7951,0.52],[7964,0.38],[7977,0.56],[7990,0.46],[8003,0.52],[8016,0.40],[8029,0.54],[8042,0.44],[8055,0.50],[8068,0.36],[8081,0.54],[8094,0.42],[8107,0.50],[8120,0.40],[8133,0.56],[8146,0.44],[8159,0.50],[8172,0.38],[8185,0.52],[8198,0.42],[8211,0.50],[8224,0.36],[8237,0.54],[8250,0.44],[8263,0.50],[8276,0.38],[8289,0.52],[8302,0.40],[8315,0.48],[8328,0.36],[8341,0.52],[8354,0.44],[8367,0.50],[8380,0.42],[8393,0.55],[8403,0.56],[8420,0.21],[8437,0.03],[8457,0.15],[8478,0.24],[8495,0.33],[8510,0.56],[8530,0.97],[8545,1.12],[8559,0.92],[8574,0.56],[8588,0.21],[8602,0.06],[8617,0.18],[8634,0.50],[8651,0.74],[8666,0.83],[8683,0.86],[8703,0.74],[8724,0.56],[8747,0.39],[8767,0.50],[8790,0.33],[8810,0.56],[8833,0.45],[8853,0.30],[8877,0.45],[8900,0.12],[8920,0.45],[8940,0.56],[8964,0.39],[8980,0.62],[8998,0.50]];

const seriesData = [sn2013am, sn2009N, sn2003Z, sn2005cs, sn1999br, sn1997D, sn2018hwm];
const seriesNames = ["2013am +83d","2009N +113d","2003Z +104d","2005cs +124d","1999br +103d","1997D +139d","2018hwm +111d"];
const seriesColors = ["#bf00bf","#bfbf00","#00bfbf","#008000","#0000ff","#ff0000","#000000"];
const seriesLabelY = [6.08, 4.57, 3.67, 3.08, 2.27, 1.57, 0.76];
const seriesLabelX = 7750;

const lineWaves = [4861, 5890, 6300, 6364, 6563, 7291, 7324, 8498, 8542, 8662];
const lineColors = ["#ff0000","#ffa500","#00bfbf","#00bfbf","#ff0000","#008000","#008000","#008000","#008000","#008000"];
const annTexts = ["Hβ","Na I D","[O I]","Hα","[Ca II]","Ca II"];
const annWaves = [4796, 5946, 6222, 6491, 7403, 8602];
const annTop = 6.84;

const xLabel = "Rest-frame wavelength (Å)";
const yLabel = "Flux + Const.";

const vlines = lineWaves.map((w, i) => ({w, color: lineColors[i]}));
const anns = annTexts.map((t, i) => ({t, w: annWaves[i]}));
const labels = seriesNames.map((n, i) => ({n, y: seriesLabelY[i], color: seriesColors[i]}));

const chart = Plot.plot({
  width: 2000, height: 1000,
  marginLeft: 250, marginRight: 200, marginTop: 100, marginBottom: 100,
  x: {domain: [4500, 9000]},
  y: {domain: [0, 7]},
  color: {type: "identity"},
  style: {fontFamily: "DejaVu Sans", fontSize: "21px", background: "white", color: "black"},
  marks: [
    ...seriesData.map((s, i) => Plot.line(s, {x: d => d[0], y: d => d[1], stroke: seriesColors[i], strokeWidth: 1.2})),
    Plot.ruleX(vlines, {x: "w", y1: 0, y2: 7, stroke: "color", strokeWidth: 1.5, strokeDasharray: "8,5"}),
    Plot.text(anns, {x: "w", y: annTop, text: "t", rotate: -90, textAnchor: "end", lineAnchor: "middle", fontSize: 24, fill: "black"}),
    Plot.text(labels, {x: seriesLabelX, y: "y", text: "n", fill: "color", textAnchor: "start", lineAnchor: "middle", fontSize: 23.5}),
    Plot.axisX({ticks: xTicks, tickSize: -7, tickPadding: 19, tickFormat: d => String(d), label: null, fontSize: 21}),
    Plot.axisX({anchor: "top", ticks: xTicks, tickSize: -7, tickFormat: () => "", label: null}),
    Plot.axisY({ticks: yTicks, tickSize: -7, tickPadding: 14, tickFormat: d => String(d), label: null, fontSize: 21}),
    Plot.axisY({anchor: "right", ticks: yTicks, tickSize: -7, tickFormat: () => "", label: null}),
    Plot.frame({stroke: "black", strokeWidth: 1.4}),
    Plot.text([xLabel], {text: d => d, frameAnchor: "bottom", textAnchor: "middle", lineAnchor: "middle", dy: 58, fontSize: 29, fill: "black"}),
    Plot.text([yLabel], {text: d => d, frameAnchor: "left", textAnchor: "middle", lineAnchor: "middle", dx: -46, dy: -6, rotate: -90, fontSize: 29, fill: "black"})
  ]
});

const mathParts = {
  "Hβ": [["H", false], ["β", true]],
  "Hα": [["H", false], ["α", true]],
  "Flux + Const.": [["Flux + ", false], ["Const.", true]],
  "Rest-frame wavelength (Å)": [["Rest-frame wavelength (", false], ["Å", true], [")", false]]
};
d3.select(chart).selectAll("text").each(function() {
  const parts = mathParts[this.textContent];
  if (!parts) return;
  const sel = d3.select(this);
  sel.text(null);
  parts.forEach(([s, it]) => {
    const ts = sel.append("tspan").text(s);
    if (it) ts.attr("font-style", "italic").attr("font-family", "DejaVu Serif");
  });
});

document.getElementById("chart").appendChild(chart);
</script>
</body></html>
